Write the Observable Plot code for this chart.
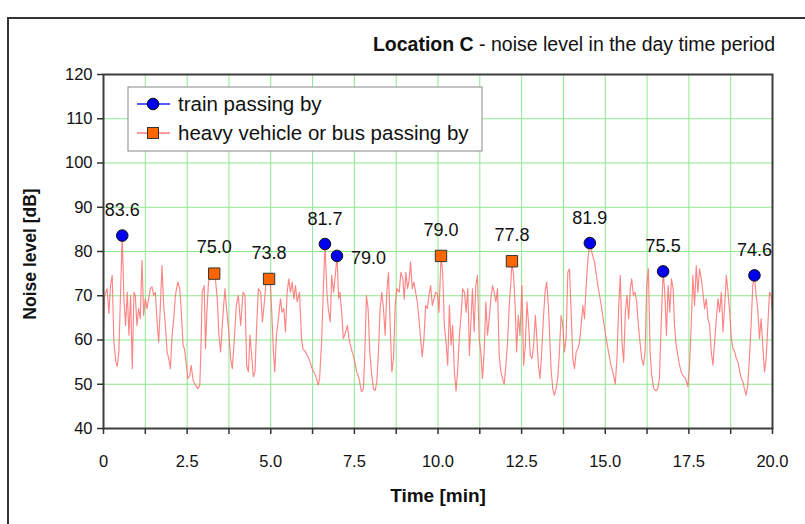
<!DOCTYPE html>
<html><head><meta charset="utf-8">
<script src="https://cdn.jsdelivr.net/npm/d3@7"></script>
<script src="https://cdn.jsdelivr.net/npm/@observablehq/plot@0.6"></script>
<style>body{margin:0;background:#fff}#chart{width:805px;height:524px}</style>
</head><body><div id="chart"></div>
<script>
// Noise trace (time in min, level in dB)
const traceTime = [0.00,0.03,0.11,0.16,0.21,0.26,0.31,0.37,0.41,0.46,0.51,0.56,0.61,0.66,0.71,0.76,0.81,0.86,0.91,0.95,1.00,1.05,1.10,1.15,1.20,1.25,1.30,1.40,1.45,1.50,1.55,1.60,1.65,1.70,1.75,1.80,1.85,1.90,1.95,2.00,2.05,2.10,2.15,2.22,2.28,2.32,2.38,2.42,2.48,2.52,2.58,2.62,2.68,2.75,2.82,2.88,2.91,2.95,3.01,3.05,3.09,3.14,3.19,3.31,3.35,3.40,3.45,3.50,3.55,3.63,3.67,3.73,3.80,3.85,3.90,3.97,4.03,4.10,4.17,4.23,4.28,4.33,4.38,4.43,4.48,4.53,4.58,4.63,4.70,4.75,4.80,4.85,4.90,4.95,4.99,5.03,5.08,5.12,5.17,5.22,5.29,5.34,5.39,5.44,5.49,5.54,5.59,5.64,5.69,5.74,5.79,5.86,5.92,5.96,6.04,6.14,6.24,6.34,6.42,6.46,6.52,6.57,6.62,6.68,6.72,6.78,6.82,6.88,6.93,6.98,7.03,7.07,7.12,7.17,7.24,7.29,7.34,7.41,7.49,7.57,7.64,7.71,7.77,7.81,7.86,7.91,7.96,8.01,8.07,8.12,8.17,8.22,8.27,8.32,8.37,8.42,8.47,8.52,8.57,8.62,8.67,8.72,8.77,8.84,8.89,8.95,8.99,9.04,9.09,9.14,9.18,9.23,9.28,9.33,9.38,9.43,9.48,9.53,9.58,9.63,9.68,9.73,9.78,9.83,9.88,9.93,9.98,10.03,10.09,10.14,10.19,10.24,10.29,10.34,10.39,10.44,10.49,10.54,10.59,10.64,10.69,10.74,10.79,10.84,10.89,10.94,10.98,11.03,11.08,11.13,11.18,11.23,11.28,11.33,11.38,11.43,11.48,11.53,11.58,11.63,11.68,11.73,11.78,11.83,11.88,11.93,11.98,12.03,12.08,12.13,12.18,12.21,12.26,12.31,12.35,12.40,12.45,12.51,12.56,12.61,12.66,12.71,12.76,12.81,12.86,12.91,12.95,13.00,13.05,13.10,13.15,13.20,13.25,13.30,13.33,13.38,13.43,13.48,13.53,13.58,13.63,13.68,13.73,13.78,13.83,13.88,13.93,13.98,14.03,14.08,14.13,14.18,14.23,14.28,14.33,14.38,14.43,14.48,14.54,14.60,14.68,14.78,14.88,14.98,15.08,15.17,15.25,15.30,15.35,15.40,15.45,15.50,15.55,15.60,15.65,15.70,15.75,15.79,15.84,15.89,15.94,15.99,16.04,16.09,16.14,16.19,16.24,16.29,16.34,16.39,16.45,16.52,16.57,16.62,16.67,16.73,16.78,16.83,16.88,16.93,16.98,17.03,17.07,17.12,17.17,17.22,17.27,17.32,17.40,17.47,17.52,17.57,17.62,17.67,17.72,17.77,17.82,17.87,17.92,17.97,18.02,18.07,18.12,18.17,18.22,18.27,18.32,18.37,18.42,18.47,18.52,18.57,18.62,18.67,18.72,18.77,18.82,18.87,18.92,18.97,19.02,19.07,19.12,19.16,19.21,19.26,19.31,19.36,19.41,19.46,19.51,19.56,19.61,19.66,19.71,19.76,19.81,19.86,19.91,19.96,20.00];
const traceDb = [61.8,70.0,71.6,66.0,72.3,74.6,59.5,55.0,54.0,57.3,70.8,83.6,69.3,63.3,70.8,61.1,70.1,53.5,70.8,70.1,63.3,67.1,64.8,78.0,65.6,69.3,67.1,71.6,72.0,70.1,70.8,64.1,59.5,67.8,76.8,67.8,63.3,57.3,55.8,53.5,61.1,64.8,70.1,73.1,71.6,67.1,58.8,58.0,54.3,51.3,52.0,54.3,50.9,49.8,49.0,49.8,57.3,70.8,72.3,58.0,66.3,73.1,74.2,75.0,73.5,69.3,61.1,57.3,63.3,71.6,67.8,63.3,55.8,53.5,58.8,67.8,70.1,63.3,70.8,70.1,54.3,52.8,61.1,56.5,51.7,52.8,63.3,71.6,70.8,64.1,67.8,72.3,73.1,73.8,72.3,66.3,57.3,52.8,61.1,64.1,69.3,66.3,67.1,61.8,70.8,73.8,70.8,73.1,69.3,72.3,68.6,70.8,60.3,58.0,57.3,55.8,53.5,52.0,49.8,51.3,59.5,70.8,81.7,70.8,67.1,64.1,74.6,70.8,74.6,79.0,69.3,70.8,66.3,60.3,61.8,63.3,60.3,58.0,55.8,52.8,51.3,48.3,49.0,56.5,70.1,67.1,57.3,52.8,49.0,48.6,50.5,57.3,67.1,70.8,67.1,61.1,70.8,75.3,63.3,52.8,55.8,67.8,71.6,70.8,75.3,73.8,69.3,75.3,71.6,73.8,77.6,71.6,73.1,70.8,68.6,64.8,60.3,56.2,60.3,67.8,67.1,70.1,72.3,67.8,69.3,70.8,70.5,66.3,79.0,75.3,63.3,59.5,54.3,67.8,58.8,63.3,52.8,48.5,53.5,61.1,65.6,71.6,70.8,66.3,71.6,56.5,63.3,71.6,61.8,72.3,74.6,60.3,57.3,51.3,57.3,68.6,61.1,64.8,69.3,72.3,70.8,68.6,71.6,56.5,52.8,51.3,50.0,54.3,59.5,67.8,73.1,77.8,74.6,67.1,57.3,65.6,61.1,72.3,54.3,58.8,68.6,63.3,56.5,55.8,58.8,65.6,61.1,54.3,51.3,57.3,64.8,70.8,73.1,67.8,62.6,53.5,49.0,47.5,49.0,51.3,57.3,65.6,63.3,57.3,60.3,75.3,76.1,66.3,55.8,53.5,57.3,58.0,59.5,63.3,67.8,64.8,72.3,78.3,81.9,79.8,77.6,72.3,67.8,62.6,58.0,54.3,52.0,50.0,55.8,67.1,74.6,59.5,55.0,66.3,70.1,64.8,71.6,73.8,70.1,70.8,68.6,63.3,59.5,55.8,54.3,57.3,72.3,76.1,57.3,52.0,49.0,48.5,49.0,51.3,63.3,75.5,70.8,61.1,72.3,66.3,73.8,71.6,63.3,58.8,56.5,54.3,52.8,52.0,51.3,49.5,54.3,63.3,74.6,67.8,76.8,70.8,76.1,73.8,70.8,67.1,69.3,64.8,63.3,57.3,54.3,59.5,64.8,69.3,66.3,70.8,61.8,67.8,74.6,70.8,66.3,60.3,58.0,57.3,55.8,55.0,52.8,51.3,50.5,49.0,47.5,49.8,55.8,63.3,72.3,74.6,70.1,67.1,60.3,64.8,58.8,52.8,55.8,63.3,70.8,70.1,66.0];

// Events
const trainTime = [0.56, 6.62, 6.98, 14.54, 16.73, 19.46];
const trainDb = [83.6, 81.7, 79.0, 81.9, 75.5, 74.6];
const vehicleTime = [3.31, 4.95, 10.09, 12.21];
const vehicleDb = [75.0, 73.8, 79.0, 77.8];

// Axes
const xGrid = [0,1.25,2.5,3.75,5,6.25,7.5,8.75,10,11.25,12.5,13.75,15,16.25,17.5,18.75,20];
const xLabelTicks = [0,2.5,5,7.5,10,12.5,15,17.5,20];
const xLabels = ["0","2.5","5.0","7.5","10.0","12.5","15.0","17.5","20.0"];
const yTicks = [40,50,60,70,80,90,100,110,120];

const titleBold = "Location C";
const titleRest = " - noise level in the day time period";
const xTitle = "Time [min]";
const yTitle = "Noise level [dB]";
const legendLabels = ["train passing by", "heavy vehicle or bus passing by"];

const trace = traceTime.map((t, i) => ({t, v: traceDb[i]}));
const trains = trainTime.map((t, i) => ({t, v: trainDb[i], i}));
const vehicles = vehicleTime.map((t, i) => ({t, v: vehicleDb[i]}));
const labelFor = d => { const k = xLabelTicks.indexOf(d); return k >= 0 ? xLabels[k] : ""; };

const FONT = "'Liberation Sans', Arial, Helvetica, sans-serif";
const svg = Plot.plot({
  width: 805, height: 524,
  marginLeft: 103, marginRight: 33, marginTop: 74, marginBottom: 96,
  style: {fontFamily: FONT, fontSize: "16px", color: "#111", background: "#fff", overflow: "visible"},
  x: {domain: [0, 20]},
  y: {domain: [40, 120]},
  marks: [
    Plot.gridX(xGrid, {stroke: "#8fe88f", strokeOpacity: 1, strokeWidth: 1}),
    Plot.gridY(yTicks, {stroke: "#8fe88f", strokeOpacity: 1, strokeWidth: 1}),
    Plot.line(trace, {x: "t", y: "v", stroke: "#ff6666", strokeWidth: 1.15, strokeOpacity: 0.8}),
    Plot.frame({stroke: "#3c3c3c", strokeWidth: 2}),
    Plot.axisX(xGrid, {tickSize: 6, tickPadding: 21, tickFormat: labelFor, label: null, fontSize: 16.5, stroke: "#333", strokeWidth: 1.5}),
    Plot.axisY(yTicks, {tickSize: 6, tickPadding: 5, label: null, fontSize: 16.5, stroke: "#333", strokeWidth: 1.5}),
    Plot.dot(trains, {x: "t", y: "v", r: 5.8, fill: "#0000f0", stroke: "#111", strokeWidth: 1}),
    Plot.dot(vehicles, {x: "t", y: "v", symbol: "square", r: 6.4, fill: "#ff6600", stroke: "#333", strokeWidth: 1}),
    Plot.text(trains.filter(d => d.i !== 2), {x: "t", y: "v", text: d => d.v.toFixed(1), dy: -25, fontSize: 18, fill: "#111"}),
    Plot.text(trains.filter(d => d.i === 2), {x: "t", y: "v", text: d => d.v.toFixed(1), dx: 14, dy: 2, textAnchor: "start", fontSize: 18, fill: "#111"}),
    Plot.text(vehicles, {x: "t", y: "v", text: d => d.v.toFixed(1), dy: -26, fontSize: 18, fill: "#111"})
  ]
});

const s = d3.select(svg);
// outer chart border
s.append("rect").attr("x", 8).attr("y", 18).attr("width", 1000).attr("height", 1000)
  .attr("fill", "none").attr("stroke", "#333").attr("stroke-width", 2);
// title
const tt = s.append("text").attr("x", 775).attr("y", 51).attr("text-anchor", "end")
  .attr("font-size", 19.5).attr("fill", "#111").attr("font-family", FONT);
tt.append("tspan").attr("font-weight", "bold").text(titleBold);
tt.append("tspan").text(titleRest);
// axis titles
s.append("text").attr("x", 438).attr("y", 502).attr("text-anchor", "middle")
  .attr("font-size", 19).attr("font-weight", "bold").attr("fill", "#111").attr("font-family", FONT).text(xTitle);
s.append("text").attr("transform", "translate(36,254) rotate(-90)").attr("text-anchor", "middle")
  .attr("font-size", 17.5).attr("font-weight", "bold").attr("fill", "#111").attr("font-family", FONT).text(yTitle);
// legend
const lg = s.append("g").attr("font-family", FONT).attr("text-anchor", "start");
lg.append("rect").attr("x", 128).attr("y", 87).attr("width", 354).attr("height", 64)
  .attr("fill", "#fff").attr("stroke", "#888").attr("stroke-width", 1);
lg.append("line").attr("x1", 137).attr("x2", 170).attr("y1", 104).attr("y2", 104).attr("stroke", "#2020ff").attr("stroke-width", 1.5);
lg.append("circle").attr("cx", 153).attr("cy", 104).attr("r", 5.8).attr("fill", "#0000f0").attr("stroke", "#111");
lg.append("text").attr("x", 178).attr("y", 104).attr("dy", "0.35em").attr("text-anchor", "start").attr("font-size", 20.5).attr("fill", "#111").text(legendLabels[0]);
lg.append("line").attr("x1", 137).attr("x2", 170).attr("y1", 133).attr("y2", 133).attr("stroke", "#ff7a7a").attr("stroke-width", 1.5);
lg.append("rect").attr("x", 147.5).attr("y", 127.5).attr("width", 11).attr("height", 11).attr("fill", "#ff6600").attr("stroke", "#333");
lg.append("text").attr("x", 178).attr("y", 133).attr("dy", "0.35em").attr("text-anchor", "start").attr("font-size", 20.5).attr("fill", "#111").text(legendLabels[1]);

document.getElementById("chart").appendChild(svg);
</script>
</body></html>
